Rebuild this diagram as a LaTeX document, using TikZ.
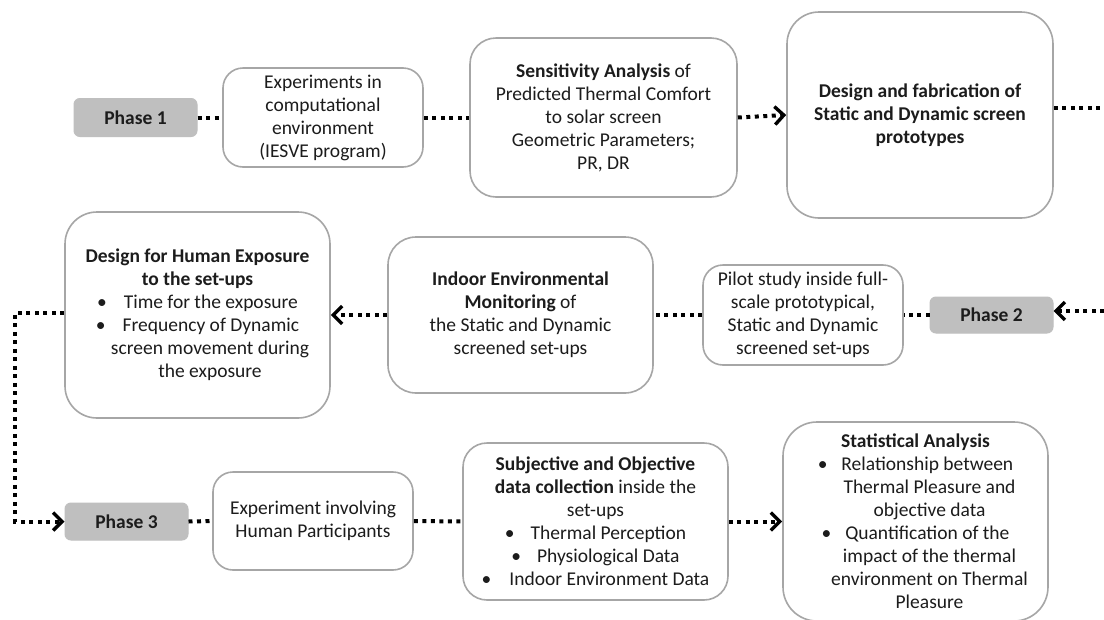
\documentclass[tikz,border=0pt]{standalone}
\usepackage{fontspec}
\setmainfont{Carlito}
\usetikzlibrary{arrows.meta}
\definecolor{boxline}{HTML}{A6A6A6}
\definecolor{phasefill}{HTML}{BFBFBF}
\definecolor{ink}{HTML}{1C1C1C}
\begin{document}
\begin{tikzpicture}[x=1pt,y=-1pt,
  txt/.style={align=center, inner sep=0pt, text=ink,
    font=\fontsize{19.5}{23}\selectfont},
  box/.style={txt, draw=boxline, line width=1.6pt, fill=white},
  phasebox/.style={txt, fill=phasefill, draw=phasefill, line width=1pt,
    rounded corners=6pt, minimum width=123pt},
  dotline/.style={draw=black, line width=4pt, dash pattern=on 4pt off 4.5pt},
  arrowline/.style={dotline, -{Straight Barb[length=9pt,width=18pt,line width=3.4pt]}}]
\useasboundingbox (0,0) rectangle (1104,619);
\fill[white] (0,0) rectangle (1104,619);

% first row
\node[phasebox, minimum height=38pt] (p1) at (135.5,117.5) {\textbf{Phase 1}};
\node[box, rounded corners=20pt, minimum width=200pt, minimum height=99pt] (exp) at (323,117.5)
  {Experiments in\\computational\\environment\\(IESVE program)};
\node[box, rounded corners=26pt, minimum width=267pt, minimum height=159pt] (sens) at (603.5,117.5)
  {\textbf{Sensitivity Analysis} of\\Predicted Thermal Comfort\\to solar screen\\Geometric Parameters;\\PR, DR};
\node[box, rounded corners=32pt, minimum width=266pt, minimum height=206pt] (fab) at (920,115)
  {\textbf{Design and fabrication of}\\\textbf{Static and Dynamic screen}\\\textbf{prototypes}};
\coordinate (rout) at (1104,108);

% second row
\node[box, rounded corners=32pt, minimum width=265pt, minimum height=206pt] (dhe) at (197.5,315)
  {\textbf{Design for Human Exposure}\\\textbf{to the set-ups}\\
   •\hspace{17pt}Time for the exposure\\
   •\hspace{17pt}Frequency of Dynamic\\
   \hspace*{25pt}screen movement during\\
   \hspace*{25pt}the exposure};
\node[box, rounded corners=28pt, minimum width=265pt, minimum height=156pt] (iem) at (520.5,315)
  {\textbf{Indoor Environmental}\\\textbf{Monitoring} of\\the Static and Dynamic\\screened set-ups};
\node[box, rounded corners=20pt, minimum width=200pt, minimum height=100pt] (pilot) at (803,315)
  {Pilot study inside full-\\scale prototypical,\\Static and Dynamic\\screened set-ups};
\node[phasebox, minimum height=36pt] (p2) at (991.5,315) {\textbf{Phase 2}};
\coordinate (rin) at (1104,311);
\coordinate (lc1) at (15,313);
\coordinate (lc2) at (15,521.5);

% third row
\node[phasebox, minimum height=37pt] (p3) at (126.5,521.5) {\textbf{Phase 3}};
\node[box, rounded corners=20pt, minimum width=200pt, minimum height=98pt] (hum) at (313,521)
  {Experiment involving\\Human Participants};
\node[box, rounded corners=24pt, minimum width=265pt, minimum height=157pt] (sub) at (595.5,521.5)
  {\textbf{Subjective and Objective}\\\textbf{data collection} inside the\\set-ups\\
   •\hspace{16pt}Thermal Perception\\
   •\hspace{16pt}Physiological Data\\
   •\hspace{18pt}Indoor Environment Data};
\node[box, rounded corners=34pt, minimum width=265pt, minimum height=199pt] (stat) at (915.5,521.5)
  {\textbf{Statistical Analysis}\\
   •\hspace{14pt}Relationship between\\
   \hspace*{28pt}Thermal Pleasure and\\
   \hspace*{28pt}objective data\\
   •\hspace{14pt}Quantification of the\\
   \hspace*{28pt}impact of the thermal\\
   \hspace*{28pt}environment on Thermal\\
   \hspace*{28pt}Pleasure};

% connectors
\draw[dotline] (p1.east) -- (exp.west);
\draw[dotline] (exp.east) -- (sens.west);
\draw[arrowline] (sens.east) -- (fab.west);
\draw[dotline] ([yshift=7pt]fab.east) -- (rout);

\draw[arrowline] (rin) -- (p2.east |- rin);
\draw[dotline] (p2.west) -- (pilot.east);
\draw[dotline] (pilot.west) -- (iem.east);
\draw[arrowline] (iem.west) -- (dhe.east);
\draw[arrowline] (dhe.west |- lc1) -- (lc1) -- (lc2) -- (p3.west);

\draw[dotline] (p3.east) -- (hum.west);
\draw[dotline] (hum.east) -- (sub.west);
\draw[arrowline] (sub.east) -- (sub.east -| stat.west);
\end{tikzpicture}
\end{document}
